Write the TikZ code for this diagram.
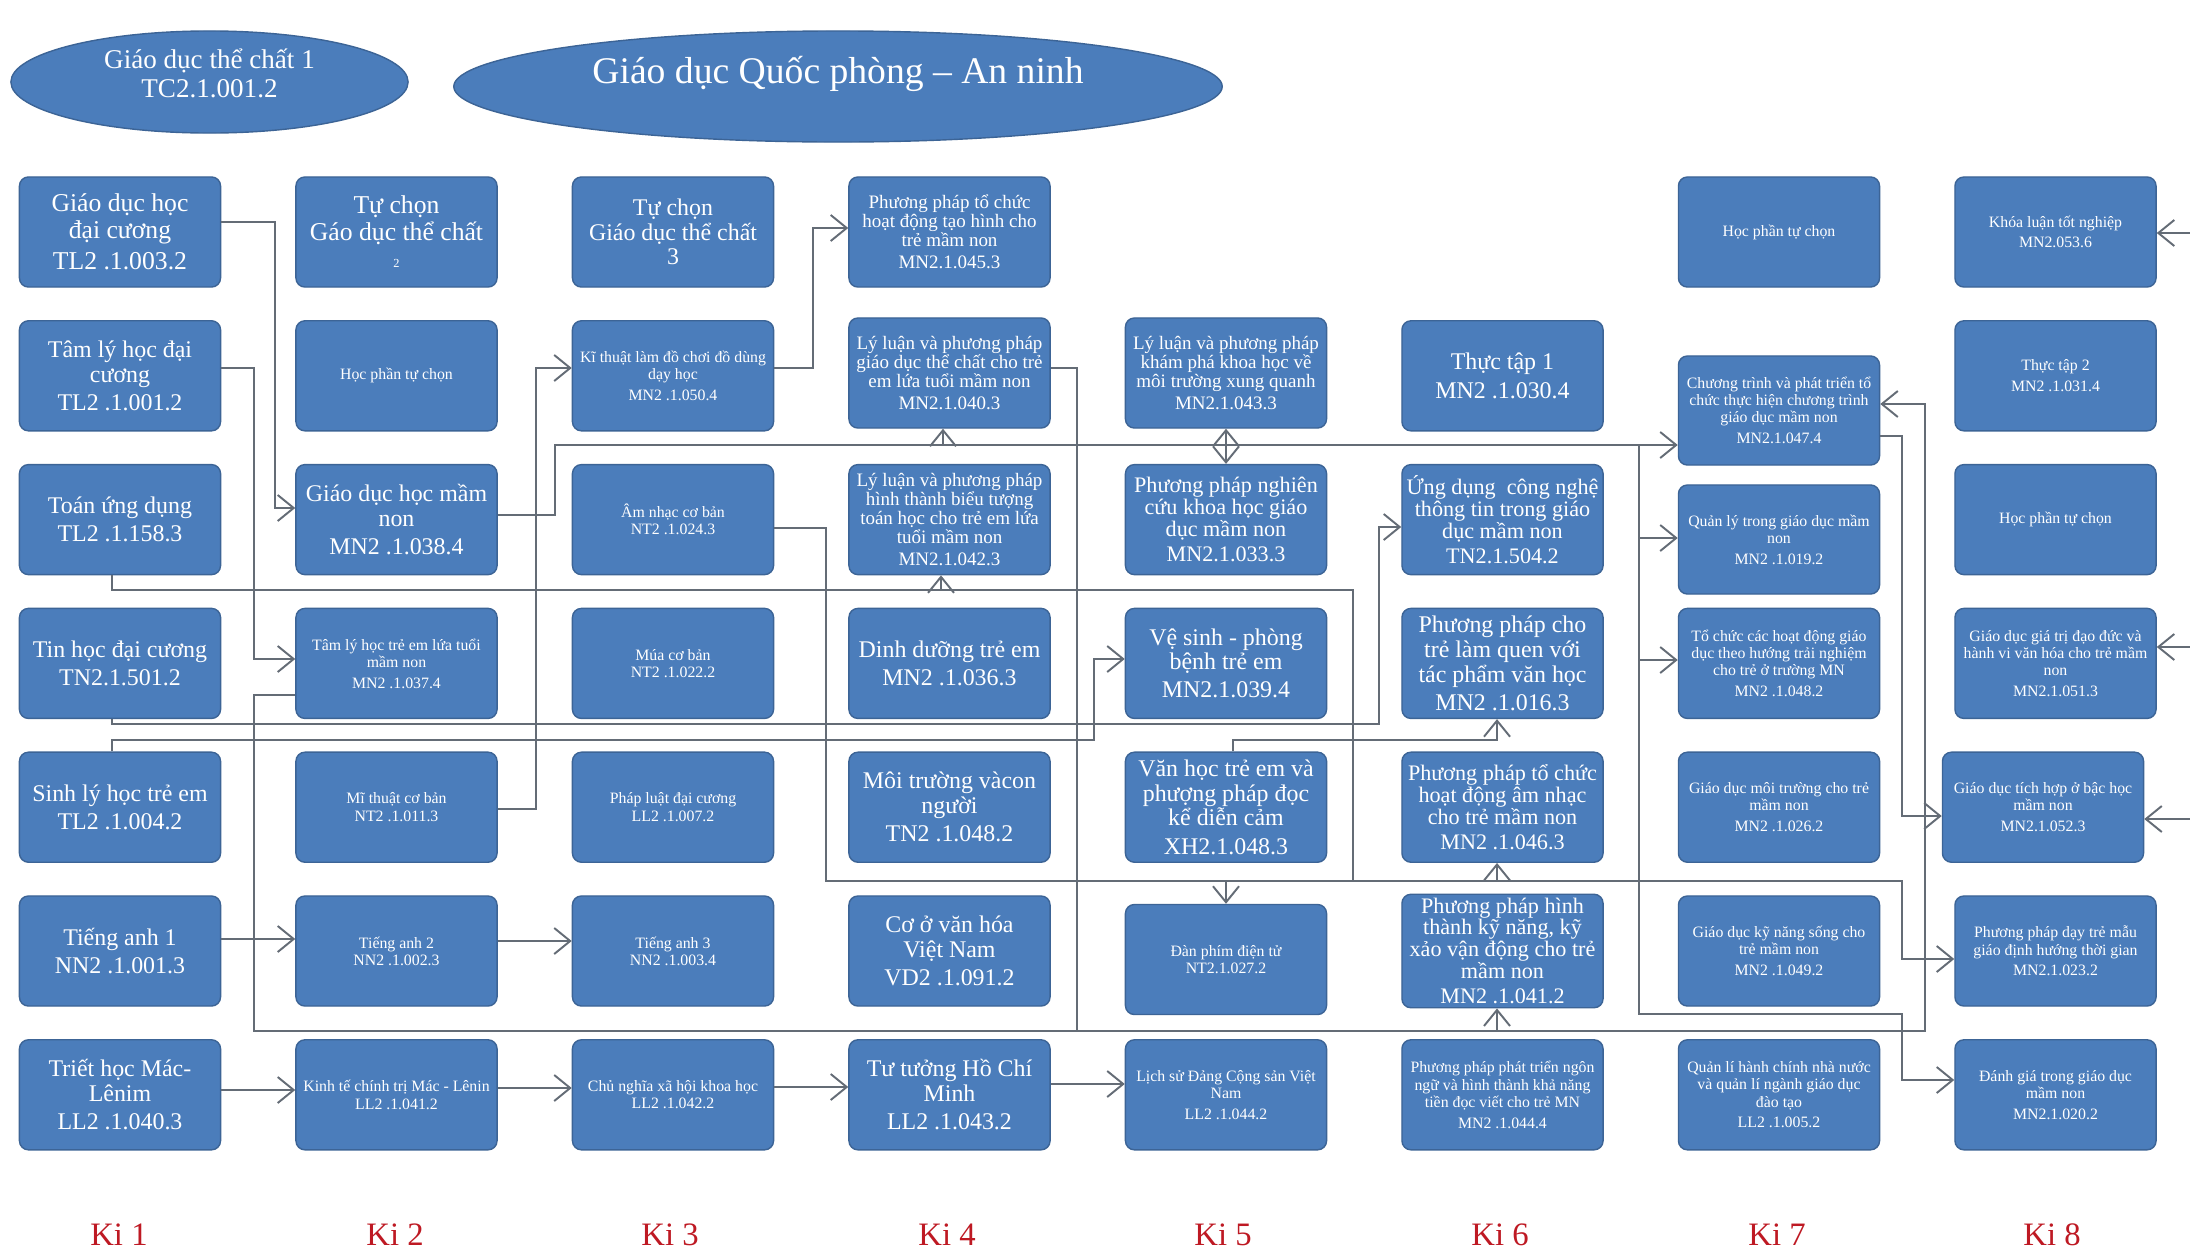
\documentclass[tikz,border=0pt]{standalone}
\usepackage{fontspec}
\setmainfont{Liberation Serif}
\usetikzlibrary{arrows.meta,shapes.geometric}
\definecolor{boxblue}{RGB}{75,125,187}
\definecolor{boxedge}{RGB}{60,100,150}
\definecolor{linegray}{RGB}{100,108,118}
\definecolor{kired}{RGB}{190,25,35}
\tikzset{
 box/.style={rectangle, rounded corners=0.09cm, fill=boxblue, draw=boxedge, line width=0.4pt, text=white, align=center, minimum width=2.01cm, minimum height=1.10cm, inner sep=1pt},
 fL/.style={font=\fontsize{7.3}{7.7}\selectfont},
 fM/.style={font=\fontsize{6.8}{7.0}\selectfont},
 fN/.style={font=\fontsize{6.3}{6.2}\selectfont},
 fS/.style={font=\fontsize{5.4}{5.4}\selectfont},
 fX/.style={font=\fontsize{4.5}{4.9}\selectfont},
 conn/.style={draw=linegray, line width=0.55pt},
 arr/.style={conn, -{Straight Barb[length=1.6mm,width=2.6mm]}},
 kilab/.style={text=kired, font=\fontsize{9.3}{10}\selectfont},
 ell/.style={ellipse, fill=boxblue, draw=boxedge, line width=0.4pt, inner sep=0pt},
 elltext/.style={text=white, align=center, inner sep=0pt},
}
\begin{document}
\begin{tikzpicture}[x=0.01cm, y=-0.01cm]
\useasboundingbox[fill=white] (0,0) rectangle (2190,1251);

% top ellipses
\node[ell, minimum width=3.97cm, minimum height=1.02cm] (e1) at (209.5,82) {};
\node[elltext, font=\fontsize{7.7}{8.2}\selectfont] (e1t) at (209.5,73) {Giáo dục thể chất 1\\TC2.1.001.2};
\node[ell, minimum width=7.68cm, minimum height=1.11cm] (e2) at (838,86.5) {};
\node[elltext, font=\fontsize{10.7}{12}\selectfont] (e2t) at (838,74) {Giáo dục Quốc phòng -- An ninh};

% column 1
\node[box,fL] (n11) at (120,232) {Giáo dục học\\đại cương\\[1pt]TL2 .1.003.2};
\node[box,fM] (n12) at (120,375.8) {Tâm lý học đại\\cương\\[1pt]TL2 .1.001.2};
\node[box,fM] (n13) at (120,519.6) {Toán ứng dụng\\[1pt]TL2 .1.158.3};
\node[box,fM] (n14) at (120,663.4) {Tin học đại cương\\[1pt]TN2.1.501.2};
\node[box,fM] (n15) at (120,807.2) {Sinh lý học trẻ em\\[1pt]TL2 .1.004.2};
\node[box,fM] (n16) at (120,951) {Tiếng anh 1\\[1pt]NN2 .1.001.3};
\node[box,fM] (n17) at (120,1094.8) {Triết học Mác-\\Lênim\\[1pt]LL2 .1.040.3};

% column 2
\node[box,fL] (n21) at (396.5,232) {Tự chọn\\Gáo dục thể chất\\{\fontsize{3.5}{3.5}\selectfont 2}};
\node[box,fX] (n22) at (396.5,375.8) {Học phần tự chọn};
\node[box,fM] (n23) at (396.5,519.6) {Giáo dục học mầm\\non\\[1pt]MN2 .1.038.4};
\node[box,fX] (n24) at (396.5,663.4) {Tâm lý học trẻ em lứa tuổi\\mầm non\\[1pt]MN2 .1.037.4};
\node[box,fX] (n25) at (396.5,807.2) {Mĩ thuật cơ bản\\NT2 .1.011.3};
\node[box,fX] (n26) at (396.5,951) {Tiếng anh 2\\NN2 .1.002.3};
\node[box,fX] (n27) at (396.5,1094.8) {Kinh tế chính trị Mác - Lênin\\LL2 .1.041.2};

% column 3
\node[box,fM] (n31) at (673,232) {Tự chọn\\Giáo dục thể chất\\3};
\node[box,fX] (n32) at (673,375.8) {Kĩ thuật làm đồ chơi đồ dùng\\dạy học\\[1pt]MN2 .1.050.4};
\node[box,fX] (n33) at (673,519.6) {Âm nhạc cơ bản\\NT2 .1.024.3};
\node[box,fX] (n34) at (673,663.4) {Múa cơ bản\\NT2 .1.022.2};
\node[box,fX] (n35) at (673,807.2) {Pháp luật đại cương\\LL2 .1.007.2};
\node[box,fX] (n36) at (673,951) {Tiếng anh 3\\NN2 .1.003.4};
\node[box,fX] (n37) at (673,1094.8) {Chủ nghĩa xã hội khoa học\\LL2 .1.042.2};

% column 4
\node[box,fS] (n41) at (949.5,232) {Phương pháp tổ chức\\hoạt động tạo hình cho\\trẻ mầm non\\[1pt]MN2.1.045.3};
\node[box,fS] (n42) at (949.5,373) {Lý luận và phương pháp\\giáo dục thể chất cho trẻ\\em lứa tuổi mầm non\\[1pt]MN2.1.040.3};
\node[box,fS] (n43) at (949.5,519.6) {Lý luận và phương pháp\\hình thành biểu tượng\\toán học cho trẻ em lứa\\tuổi mầm non\\[1pt]MN2.1.042.3};
\node[box,fM] (n44) at (949.5,663.4) {Dinh dưỡng trẻ em\\[1pt]MN2 .1.036.3};
\node[box,fM] (n45) at (949.5,807.2) {Môi trường vàcon\\người\\[1pt]TN2 .1.048.2};
\node[box,fM] (n46) at (949.5,951) {Cơ ở văn hóa\\Việt Nam\\[1pt]VD2 .1.091.2};
\node[box,fM] (n47) at (949.5,1094.8) {Tư tưởng Hồ Chí\\Minh\\[1pt]LL2 .1.043.2};

% column 5
\node[box,fS] (n52) at (1226,373) {Lý luận và phương pháp\\khám phá khoa học về\\môi trường xung quanh\\[1pt]MN2.1.043.3};
\node[box,fN] (n53) at (1226,519.6) {Phương pháp nghiên\\cứu khoa học giáo\\dục mầm non\\[1pt]MN2.1.033.3};
\node[box,fM] (n54) at (1226,663.4) {Vệ sinh - phòng\\bệnh trẻ em\\[1pt]MN2.1.039.4};
\node[box,fM] (n55) at (1226,807.2) {Văn học trẻ em và\\phượng pháp đọc\\kể diễn cảm\\[1pt]XH2.1.048.3};
\node[box,fX] (n56) at (1226,959.5) {Đàn phím điện tử\\NT2.1.027.2};
\node[box,fX] (n57) at (1226,1094.8) {Lịch sử Đảng Cộng sản Việt\\Nam\\[1pt]LL2 .1.044.2};

% column 6
\node[box,fM] (n62) at (1502.5,375.8) {Thực tập 1\\[1pt]MN2 .1.030.4};
\node[box,fN] (n63) at (1502.5,519.6) {Ứng dụng\ \ công nghệ\\thông tin trong giáo\\dục mầm non\\[1pt]TN2.1.504.2};
\node[box,fM] (n64) at (1502.5,663.4) {Phương pháp cho\\trẻ làm quen với\\tác phẩm văn học\\[1pt]MN2 .1.016.3};
\node[box,fN] (n65) at (1502.5,807.2) {Phương pháp tổ chức\\hoạt động âm nhạc\\cho trẻ mầm non\\[1pt]MN2 .1.046.3};
\node[box,fN] (n66) at (1502.5,951) {Phương pháp hình\\thành kỹ năng, kỹ\\xảo vận động cho trẻ\\mầm non\\[1pt]MN2 .1.041.2};
\node[box,fX] (n67) at (1502.5,1094.8) {Phương pháp phát triển ngôn\\ngữ và hình thành khả năng\\tiền đọc viết cho trẻ MN\\[1pt]MN2 .1.044.4};

% column 7
\node[box,fX] (n71) at (1779,232) {Học phần tự chọn};
\node[box,fX, minimum height=1.09cm] (n72) at (1779,410.5) {Chương trình và phát triển tổ\\chức thực hiện chương trình\\giáo dục mầm non\\[1pt]MN2.1.047.4};
\node[box,fX, minimum height=1.09cm] (n73) at (1779,539.5) {Quản lý trong giáo dục mầm\\non\\[1pt]MN2 .1.019.2};
\node[box,fX] (n74) at (1779,663.4) {Tổ chức các hoạt động giáo\\dục theo hướng trải nghiệm\\cho trẻ ở trường MN\\[1pt]MN2 .1.048.2};
\node[box,fX] (n75) at (1779,807.2) {Giáo dục môi trường cho trẻ\\mầm non\\[1pt]MN2 .1.026.2};
\node[box,fX] (n76) at (1779,951) {Giáo dục kỹ năng sống cho\\trẻ mầm non\\[1pt]MN2 .1.049.2};
\node[box,fX] (n77) at (1779,1094.8) {Quản lí hành chính nhà nước\\và quản lí ngành giáo dục\\đào tạo\\[1pt]LL2 .1.005.2};

% column 8
\node[box,fX] (n81) at (2055.5,232) {Khóa luận tốt nghiệp\\[1pt]MN2.053.6};
\node[box,fX] (n82) at (2055.5,375.8) {Thực tập 2\\[1pt]MN2 .1.031.4};
\node[box,fX] (n83) at (2055.5,519.6) {Học phần tự chọn};
\node[box,fX] (n84) at (2055.5,663.4) {Giáo dục giá trị đạo đức và\\hành vi văn hóa cho trẻ mầm\\non\\[1pt]MN2.1.051.3};
\node[box,fX] (n85) at (2043,807.2) {Giáo dục tích hợp ở bậc học\\mầm non\\[1pt]MN2.1.052.3};
\node[box,fX] (n86) at (2055.5,951) {Phương pháp dạy trẻ mẫu\\giáo định hướng thời gian\\[1pt]MN2.1.023.2};
\node[box,fX] (n87) at (2055.5,1094.8) {Đánh giá trong giáo dục\\mầm non\\[1pt]MN2.1.020.2};

% semester labels
\node[kilab] (k1) at (119,1235) {Ki 1};
\node[kilab] (k2) at (395,1235) {Ki 2};
\node[kilab] (k3) at (670,1235) {Ki 3};
\node[kilab] (k4) at (947,1235) {Ki 4};
\node[kilab] (k5) at (1223,1235) {Ki 5};
\node[kilab] (k6) at (1500,1235) {Ki 6};
\node[kilab] (k7) at (1777,1235) {Ki 7};
\node[kilab] (k8) at (2052,1235) {Ki 8};

% ---- connectors ----
% Giao duc hoc dai cuong -> Giao duc hoc mam non
\draw[arr] (n11.east |- 0,222) -- (275,222) |- (n23.west |- 0,508);
% Tam ly hoc dai cuong -> Tam ly hoc tre em
\draw[arr] (n12.east |- 0,368) -- (254,368) |- (n24.west |- 0,659);
% Tam ly hoc tre em -> Chuong trinh
\draw[arr] (n24.west |- 0,695) -- (254,695) -- (254,1031) -- (1925,1031) |- (n72.east |- 0,404);
% Toan ung dung -> PP bieu tuong toan, PP day tre dinh huong thoi gian
\draw[arr] (n13.south -| 112,0) -- (112,590) -- (1353,590) -- (1353,881) -| (1902,959) -- (n86.west |- 0,959);
\coordinate (c1) at (941,590);
\draw[arr] (c1) -- (c1 |- n43.south);
% Giao duc hoc mam non -> many
\draw[arr] (n23.east |- 0,515) -- (555,515) -- (555,445) -- (1639,445) -- (1639,1014) -- (1902,1014) |- (n87.west |- 0,1080);
\coordinate (d1) at (943,445);
\coordinate (d2) at (1226,445);
\coordinate (d3) at (1639,445);
\coordinate (d4) at (1639,538);
\coordinate (d5) at (1639,660);
\draw[arr] (d1) -- (d1 |- n42.south);
\draw[arr] (d2) -- (d2 |- n52.south);
\draw[arr] (d2) -- (d2 |- n53.north);
\draw[arr] (d3) -- (n72.west |- d3);
\draw[arr] (d4) -- (n73.west |- d4);
\draw[arr] (d5) -- (n74.west |- d5);
% Mi thuat co ban -> Ki thuat lam do choi
\draw[arr] (n25.east |- 0,809) -- (536,809) |- (n32.west |- 0,368);
% Ki thuat lam do choi -> PP tao hinh
\draw[arr] (n32.east |- 0,368) -- (813,368) |- (n41.west |- 0,228);
% Am nhac co ban -> PP am nhac, Dan phim
\draw[arr] (n33.east |- 0,528) -- (826,528) -- (826,881) -| (n65.south -| 1497,0);
\coordinate (g1) at (1226,881);
\draw[arr] (g1) -- (g1 |- n56.north);
% Sinh ly hoc tre em -> Ve sinh
\draw[arr] (n15.north -| 112,0) -- (112,740) -- (1094,740) |- (n54.west |- 0,659);
% Tin hoc dai cuong -> Ung dung CNTT
\draw[arr] (n14.south -| 112,0) -- (112,724) -- (1379,724) |- (n63.west |- 0,527);
% Van hoc tre em -> PP lam quen van hoc
\draw[arr] (n55.north -| 1233,0) -- (1233,740) -| (n64.south -| 1497,0);
% GD the chat -> PP ky nang van dong
\draw[arr] (n42.east |- 0,368) -- (1077,368) -- (1077,1031) -| (n66.south -| 1497,0);
% Chuong trinh -> GD tich hop
\draw[arr] (n72.east |- 0,436) -- (1902,436) |- (n85.west |- 0,816);
% language chain
\draw[arr] (n16.east |- 0,939) -- (n26.west |- 0,939);
\draw[arr] (n26.east |- 0,941) -- (n36.west |- 0,941);
% politics chain
\draw[arr] (n17.east |- 0,1090) -- (n27.west |- 0,1090);
\draw[arr] (n27.east |- 0,1088) -- (n37.west |- 0,1088);
\draw[arr] (n37.east |- 0,1087) -- (n47.west |- 0,1087);
\draw[arr] (n47.east |- 0,1084) -- (n57.west |- 0,1084);
% arrows entering from the right edge
\coordinate (r1) at (2190,233);
\coordinate (r4) at (2190,647);
\coordinate (r5) at (2190,819);
\draw[arr] (r1) -- (n81.east |- r1);
\draw[arr] (r4) -- (n84.east |- r4);
\draw[arr] (r5) -- (n85.east |- r5);
\end{tikzpicture}
\end{document}
